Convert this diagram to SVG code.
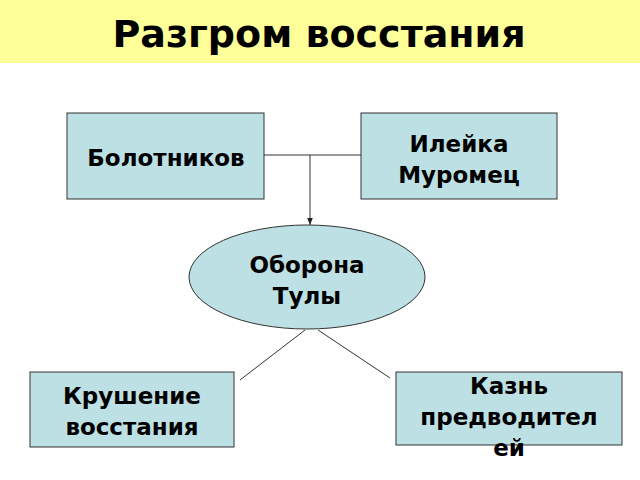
<svg xmlns="http://www.w3.org/2000/svg" width="640" height="480" viewBox="0 0 640 480">
<defs>
<style>
.box{fill:#bde0e4;stroke:#333;stroke-width:1}
.t{font-family:"DejaVu Sans",sans-serif;font-weight:bold;font-size:23px;fill:#000;text-anchor:middle}
.c{stroke:#333;stroke-width:1;fill:none}
</style>
<marker id="a" viewBox="0 0 10 10" refX="10" refY="5" markerWidth="7" markerHeight="7" orient="auto"><path d="M0,1L10,5L0,9z" fill="#222"/></marker>
</defs>
<rect x="0" y="0" width="640" height="63" fill="#ffff99"/>
<text x="319" y="47" class="t" style="font-size:38px">Разгром восстания</text>
<g id="connectors">
<line class="c" x1="264" y1="155" x2="361" y2="155"/>
<line class="c" x1="310" y1="155" x2="310" y2="225" marker-end="url(#a)"/>
<line class="c" x1="305" y1="330" x2="240" y2="380"/>
<line class="c" x1="318" y1="330" x2="390" y2="378"/>
</g>
<g id="bolotnikov"><rect class="box" x="67" y="113" width="197" height="86"/><text class="t" x="166" y="166">Болотников</text></g>
<g id="ileyka"><rect class="box" x="361" y="113" width="196" height="86"/><text class="t" x="459" y="152">Илейка</text><text class="t" x="459" y="183">Муромец</text></g>
<g id="tula"><ellipse class="box" cx="307" cy="277" rx="118" ry="52"/><text class="t" x="307" y="273">Оборона</text><text class="t" x="307" y="304">Тулы</text></g>
<g id="krushenie"><rect class="box" x="30" y="372" width="204" height="75"/><text class="t" x="132" y="404">Крушение</text><text class="t" x="132" y="435">восстания</text></g>
<g id="kazn"><rect class="box" x="396" y="372" width="226" height="73"/><text class="t" x="509" y="394">Казнь</text><text class="t" x="509" y="425">предводител</text><text class="t" x="509" y="456">ей</text></g>
</svg>
